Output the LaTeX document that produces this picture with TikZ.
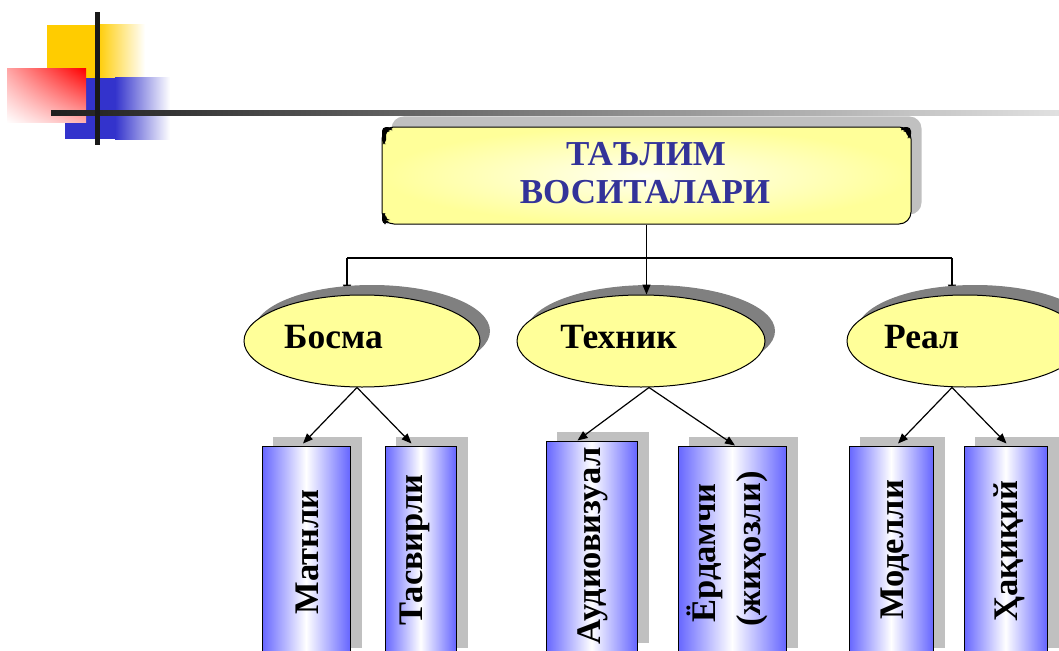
\documentclass[tikz,border=0pt]{standalone}
\usepackage{fontspec}
\setmainfont{Liberation Serif}
\usetikzlibrary{shapes.geometric,arrows.meta,shadings}
\pgfdeclarelayer{background}
\pgfsetlayers{background,main}
\definecolor{tyellow}{HTML}{FFFF99}
\definecolor{tblue}{HTML}{333399}
\definecolor{rblue}{HTML}{6666FF}
\definecolor{shgray}{HTML}{C0C0C0}
\definecolor{elgray}{HTML}{808080}
\definecolor{dyellow}{HTML}{FFCC00}
\definecolor{dblue}{HTML}{3333CC}
\begin{document}
\begin{tikzpicture}[x=1pt,y=-1pt,
  ell/.style={ellipse,draw=black,line width=1pt,fill=tyellow,inner sep=0pt},
  colbox/.style={rectangle,draw=black,line width=1pt,inner sep=0pt,
    left color=rblue,right color=rblue,middle color=white},
  lbl/.style={font=\fontsize{35.5}{40}\selectfont\bfseries,text=black,inner sep=0pt},
  vlbl/.style={font=\fontsize{34.5}{40}\selectfont\bfseries,text=black,inner sep=0pt,rotate=90,anchor=base},
  ttl/.style={font=\fontsize{35}{38}\selectfont\bfseries,text=tblue,inner sep=0pt,anchor=base},
  arr/.style={line width=1.2pt,-{Triangle[length=10pt,width=8pt]}},
  ln/.style={line width=1.2pt}]
\useasboundingbox (0,0) rectangle (1059,650);

% decoration top-left
\fill[dyellow] (47,25) rectangle (97,79);
\shade[left color=dyellow,right color=white] (97,25) rectangle (145,79);
\fill[dblue] (65,78) rectangle (115,139);
\shade[left color=dblue,right color=white] (115,78) rectangle (170,139);
\shade[upper left=red!35,upper right=red,lower left=white,lower right=red!30] (7,69) rectangle (86,123);
\shade[left color=black!88,right color=black!12] (51,111) rectangle (1059,116);
\fill[black!90] (95,12) rectangle (100,145);

% title
\node[draw=black,line width=1pt,rounded corners=12pt,minimum width=529pt,minimum height=97pt,
  inner sep=0pt,inner color=yellow!6!white,outer color=tyellow] (title) at (646.5,175.5) {};
\node[ttl] (titleA) at (646,165.5) {ТАЪЛИМ};
\node[ttl] (titleB) at (645,203) {ВОСИТАЛАРИ};
\fill[black,rounded corners=4pt] (382,144) -- (382,127) -- (392,127) -- (392,131) -- (386,131) -- (386,144) -- cycle;
\fill[black,rounded corners=4pt] (911,138) -- (911,127) -- (901,127) -- (901,131) -- (907,131) -- (907,138) -- cycle;
\fill[black,rounded corners=4pt] (382,213) -- (382,224) -- (388,224) -- (388,220) -- (386,220) -- (386,213) -- cycle;

% ellipses
\node[ell,minimum width=236pt,minimum height=92pt] (bosma) at (362,341) {};
\node[ell,minimum width=248pt,minimum height=92pt] (tech) at (641,341) {};
\node[ell,minimum width=236pt,minimum height=92pt] (real) at (965,341) {};
\node[lbl,anchor=base] (bosmaT) at (333.5,348) {Босма};
\node[lbl,anchor=base] (techT) at (618.5,348) {Техник};
\node[lbl,anchor=base] (realT) at (921.5,348) {Реал};

% columns
\node[colbox,minimum width=88pt,minimum height=210pt] (matn) at (306,551) {};
\node[colbox,minimum width=71pt,minimum height=210pt] (tasv) at (420.5,551) {};
\node[colbox,minimum width=91pt,minimum height=210pt] (audio) at (591.5,546) {};
\node[colbox,minimum width=108pt,minimum height=210pt] (yord) at (732,551) {};
\node[colbox,minimum width=84pt,minimum height=210pt] (model) at (891,551) {};
\node[colbox,minimum width=83pt,minimum height=210pt] (haq) at (1005.5,551) {};
\node[vlbl] (matnT) at (318.5,552) {Матнли};
\node[vlbl] (tasvT) at (422.5,550) {Тасвирли};
\node[vlbl] (audioT) at (600.5,546) {Аудиовизуал};
\node[vlbl] (yordT) at (715.5,553) {Ёрдамчи};
\node[vlbl] (yordT2) at (760.5,549) {(жиҳозли)};
\node[vlbl] (modelT) at (903.5,550) {Моделли};
\node[vlbl] (haqT) at (1017.5,551) {Ҳақиқий};

% background: connectors hidden by shadows, then shadows
\begin{pgfonlayer}{background}
  \coordinate (bL) at (347,258);
  \coordinate (bR) at (952,258);
  \draw[ln] (bL) -- (bR);
  \draw[arr] (bL) -- (bL |- bosma.north);
  \draw[arr] (bR) -- (bR |- real.north);
  \fill[shgray,rounded corners=12pt] ([shift={(10,-10)}]title.south west) rectangle ([shift={(10,-10)}]title.north east);
  \foreach \n/\rx in {bosma/118,tech/124,real/118}
    \fill[elgray] ([shift={(10,-10)}]\n.center) ellipse [x radius=\rx, y radius=46];
  \foreach \n in {matn,tasv,audio,yord,model,haq}
    \fill[shgray] ([shift={(11,-9)}]\n.south west) rectangle ([shift={(11,-9)}]\n.north east);
\end{pgfonlayer}

% connectors
\draw[arr] (title.south) -- (title.south |- tech.north);
\draw[arr] ([xshift=-5pt]bosma.south) -- ([xshift=-3pt,yshift=2pt]matn.north);
\draw[arr] ([xshift=-5pt]bosma.south) -- ([xshift=-9pt,yshift=2pt]tasv.north);
\draw[arr] ([xshift=8pt]tech.south) -- ([xshift=-14pt]audio.north);
\draw[arr] ([xshift=8pt]tech.south) -- ([xshift=3pt]yord.north);
\draw[arr] ([xshift=-13pt]real.south) -- ([xshift=7pt,yshift=2pt]model.north);
\draw[arr] ([xshift=-13pt]real.south) -- ([xshift=1pt,yshift=2pt]haq.north);
\end{tikzpicture}
\end{document}
